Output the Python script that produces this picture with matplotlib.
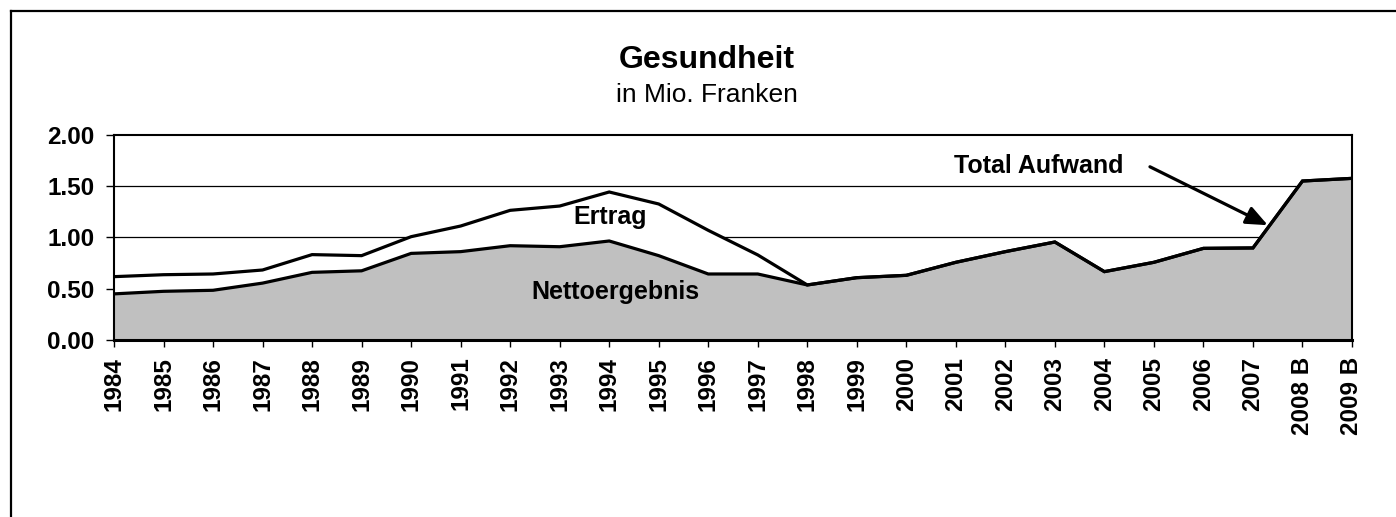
import matplotlib
matplotlib.use("Agg")
import matplotlib.pyplot as plt
from matplotlib.lines import Line2D
import numpy as np

plt.rcParams['font.family'] = ['Liberation Sans', 'DejaVu Sans']

years = ["1984", "1985", "1986", "1987", "1988", "1989", "1990", "1991", "1992",
         "1993", "1994", "1995", "1996", "1997", "1998", "1999", "2000", "2001",
         "2002", "2003", "2004", "2005", "2006", "2007", "2008 B", "2009 B"]
nettoergebnis = [0.45, 0.475, 0.485, 0.555, 0.66, 0.675, 0.845, 0.862, 0.92,
                 0.91, 0.966, 0.823, 0.644, 0.644, 0.537, 0.608, 0.631, 0.758,
                 0.862, 0.956, 0.667, 0.758, 0.894, 0.898, 1.551, 1.577]
total_aufwand = [0.618, 0.637, 0.644, 0.683, 0.833, 0.823, 1.008, 1.112, 1.265,
                 1.307, 1.444, 1.327, 1.07, 0.83, 0.537, 0.608, 0.631, 0.758,
                 0.862, 0.956, 0.667, 0.758, 0.894, 0.898, 1.551, 1.577]
yticks = [0.0, 0.5, 1.0, 1.5, 2.0]

fig = plt.figure(figsize=(13.96, 5.17), dpi=100)
ax = fig.add_axes([114/1396, 1-340/517, (1352-114)/1396, (340-135)/517])

x = np.arange(len(years))
ax.fill_between(x, 0, nettoergebnis, color='#C0C0C0', zorder=1, linewidth=0)
ax.fill_between(x, nettoergebnis, total_aufwand, color='white', zorder=1, linewidth=0)
for yv in yticks[1:-1]:
    ax.axhline(yv, color='black', lw=0.9, zorder=0.5)
ax.plot(x, total_aufwand, color='black', lw=2.3, zorder=3, solid_joinstyle='miter')
ax.plot(x, nettoergebnis, color='black', lw=2.3, zorder=3, solid_joinstyle='miter')

ax.set_xlim(0, len(years) - 1)
ax.set_ylim(0, 2.0)
ax.set_xticks(x)
ax.set_xticklabels(years, rotation=90, fontsize=17.5, fontweight='bold', va='top', ha='center')
ax.set_yticks(yticks)
ax.set_yticklabels([f"{v:.2f}" for v in yticks], fontsize=17.5, fontweight='bold')
ax.tick_params(axis='y', length=6, width=1, pad=8, direction='out')
ax.tick_params(axis='x', length=5, width=1, pad=7, direction='out')
for side in ['left', 'top', 'right']:
    ax.spines[side].set_linewidth(1.5)
ax.spines['bottom'].set_linewidth(2.2)
ax.set_facecolor('white')

ax.text(10.02, 1.20, "Ertrag", fontsize=18, fontweight='bold', ha='center', va='center', zorder=4)
ax.text(10.12, 0.47, "Nettoergebnis", fontsize=18, fontweight='bold', ha='center', va='center', zorder=4)
ax.text(18.68, 1.70, "Total Aufwand", fontsize=18, fontweight='bold', ha='center', va='center', zorder=4)
ax.annotate("", xy=(23.3, 1.12), xytext=(20.92, 1.69),
            arrowprops=dict(arrowstyle='-|>,head_length=1.3,head_width=0.55',
                            color='black', lw=2.3, shrinkA=0, shrinkB=0), zorder=5)

fig.text(707/1396, 1-60/517, "Gesundheit", fontsize=23, fontweight='bold', ha='center', va='center')
fig.text(707/1396, 1-95/517, "in Mio. Franken", fontsize=19, ha='center', va='center')

# outer frame (left and top visible)
fig.add_artist(Line2D([11/1396, 11/1396], [0, 1-11/517], transform=fig.transFigure, color='black', lw=1.6))
fig.add_artist(Line2D([11/1396, 1], [1-11/517, 1-11/517], transform=fig.transFigure, color='black', lw=1.6))

fig.savefig("out.png", dpi=100)
